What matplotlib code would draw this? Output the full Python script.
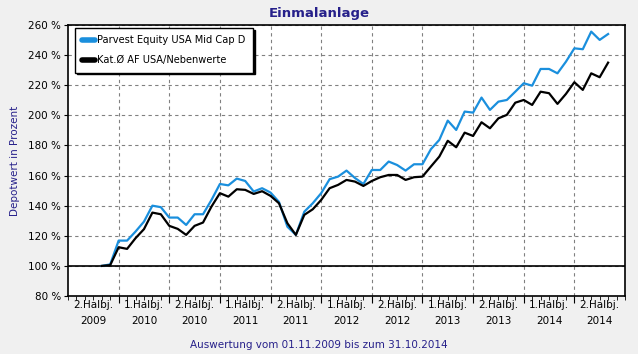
import matplotlib.pyplot as plt
import numpy as np

# month index: 0 = 01.07.2009, data are month ends from Oct 2009 to Oct 2014
start_month = 4
parvest = [100, 101, 116.8, 116.8, 122.8, 129.4, 140, 139, 132.1, 132.1,
           127.2, 134.3, 134.3, 143.8, 154.4, 153.5, 158, 156.4, 149.4, 151.6,
           148.7, 142.5, 126, 120.6, 136, 141.6, 148.3, 157.6, 159.3, 163.3,
           158.4, 154.4, 163.7, 163.7, 169.3, 167, 163.3, 167.5, 167.5, 177.5,
           183.7, 196.5, 190.3, 202.5, 201.8, 211.8, 203.6, 209.1, 210.2, 215.7,
           221.3, 219.7, 230.8, 230.8, 227.9, 235.6, 244.5, 243.9, 255.6, 250.1,
           254]
kategorie = [100, 100.5, 112.4, 111.3, 118.4, 124.4, 135.4, 134.3, 126.6, 124.6,
             120.6, 126.6, 128.8, 139.4, 148.3, 146, 150.9, 150.5, 147.8, 149.6,
             146.5, 141.6, 128.3, 120.6, 133.9, 137.6, 143.8, 151.6, 153.8, 157.1,
             156, 153.1, 156.4, 158.9, 160.4, 160.4, 157.1, 158.9, 159.3, 166,
             172.6, 183.1, 178.8, 188.5, 186.3, 195.4, 191.4, 198, 200.3, 208.4,
             210.2, 206.9, 215.7, 214.7, 207.6, 214.2, 222, 216.9, 227.9, 225.3,
             235]
labels = ["2.Halbj.\n2009", "1.Halbj.\n2010", "2.Halbj.\n2010", "1.Halbj.\n2011",
          "2.Halbj.\n2011", "1.Halbj.\n2012", "2.Halbj.\n2012", "1.Halbj.\n2013",
          "2.Halbj.\n2013", "1.Halbj.\n2014", "2.Halbj.\n2014"]
yticks = list(range(80, 261, 20))

months = np.arange(len(parvest)) + start_month
navy = '#26208a'

fig = plt.figure(figsize=(6.38, 3.54), dpi=100, facecolor='#f0f0f0')
ax = fig.add_axes([0.1066, 0.1638, 0.873, 0.7656])
ax.set_facecolor('white')

ax.plot(months, parvest, color='#1a8fdd', lw=1.6, label='Parvest Equity USA Mid Cap D', zorder=3)
ax.plot(months, kategorie, color='black', lw=1.6, label='Kat.Ø AF USA/Nebenwerte', zorder=4)
ax.axhline(100, color='black', lw=1.2, zorder=2)

ax.set_xlim(0, 66)
ax.set_ylim(80, 260)
ax.set_yticks(yticks)
ax.set_yticklabels([f'{v} %' for v in yticks], fontsize=7.5)
ax.set_xticks(range(6, 66, 6))
ax.set_xticklabels([])
ax.set_xticks(range(0, 67), minor=True)
for i, lab in enumerate(labels):
    ax.text(3 + 6 * i, -0.015, lab, transform=ax.get_xaxis_transform(),
            ha='center', va='top', fontsize=7.5, linespacing=1.8)
ax.tick_params(axis='x', which='major', length=5, direction='out')
ax.tick_params(axis='x', which='minor', length=3, direction='out')
ax.tick_params(axis='y', length=3, direction='out', pad=2)
ax.grid(True, which='major', color='#808080', linestyle=(0, (3, 3)), lw=0.8)
for s in ax.spines.values():
    s.set_linewidth(1.2)

ax.set_ylabel('Depotwert in Prozent', color=navy, fontsize=7.5, labelpad=6)
fig.text(0.5, 0.962, 'Einmalanlage', ha='center', va='center',
         fontsize=9.5, fontweight='bold', color=navy)
fig.text(0.5, 0.025, 'Auswertung vom 01.11.2009 bis zum 31.10.2014',
         ha='center', va='center', fontsize=7.5, color=navy)

leg = ax.legend(loc='upper left', fontsize=7.1, handlelength=1.3,
                handletextpad=0.2, borderpad=0.75, labelspacing=1.0,
                fancybox=False, shadow={'color': 'black', 'alpha': 1, 'ox': 1.2, 'oy': -1.2},
                framealpha=1, bbox_to_anchor=(0.0126, 0.989), borderaxespad=0)
leg.get_frame().set_edgecolor('black')
leg.get_frame().set_linewidth(1.0)
for line in leg.get_lines():
    line.set_linewidth(4)
    line.set_solid_capstyle('round')

fig.savefig('out.png', dpi=100, facecolor=fig.get_facecolor())
